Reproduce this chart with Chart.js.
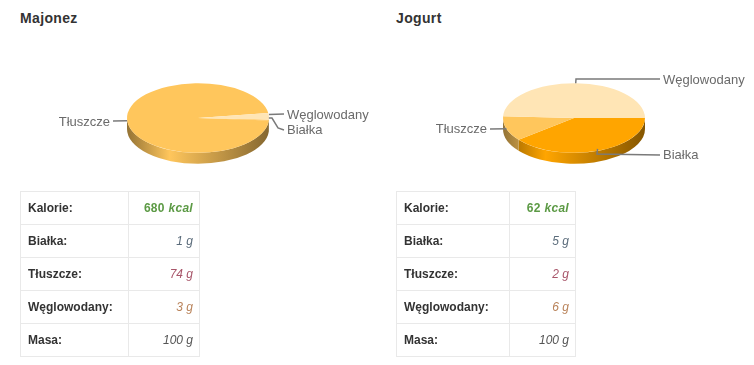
<!doctype html>
<html lang="pl">
  <head>
    <meta charset="utf-8">
    <title>Majonez i Jogurt</title>
    <script src="https://cdn.jsdelivr.net/npm/chart.js@4/dist/chart.umd.min.js"></script>
    <style>
      html, body { margin: 0; padding: 0; background: #fff; overflow: hidden; }
      body { width: 754px; height: 365px; position: relative; font-family: 'Liberation Sans', Arial, sans-serif; color: #333; }
      h3 { position: absolute; top: 10px; margin: 0; font-size: 14px; line-height: 16px; font-weight: bold; color: #333; letter-spacing: 0.35px; }
      canvas { position: absolute; top: 46px; filter: blur(0.4px); }
      table { position: absolute; top: 191px; width: 180px; border-collapse: collapse; font-size: 12px; table-layout: fixed; }
      td { border: 1px solid #e9e9e9; height: 33px; padding: 0 6px 0 7px; box-sizing: border-box; }
      td:first-child { font-weight: bold; color: #333; }
      td:last-child { text-align: right; font-style: italic; }
      .kal { color: #5c9a45; font-weight: bold; letter-spacing: 0.3px; }
      td.kal b { font-style: normal; }
      .bia { color: #5a6b7a; }
      .tlu { color: #a8566a; }
      .weg { color: #b9835a; }
      .mas { color: #555; }
    </style>
  </head>
  <body>
    <h3 style="left:20px">Majonez</h3>
    <h3 style="left:396px">Jogurt</h3>
    <canvas id="pie1" width="360" height="144" style="left:18px"></canvas>
    <canvas id="pie2" width="360" height="144" style="left:394px"></canvas>
    <table id="tab1" style="left:20px"></table>
    <table id="tab2" style="left:396px"></table>
    <script>
      const categories = ['Białka', 'Tłuszcze', 'Węglowodany'];
      // slice sizes, the tables show them rounded
      const majonezValues = [0.2, 74, 2.4];
      const jogurtValues = [5.1, 1.5, 6.4];
      const sliceColors = ['#ffa500', '#ffc65c', '#ffe5b5'];

      const rowLabels = ['Kalorie:', 'Białka:', 'Tłuszcze:', 'Węglowodany:', 'Masa:'];
      const rowClasses = ['kal', 'bia', 'tlu', 'weg', 'mas'];
      const majonezRows = ['<b>680</b> kcal', '1 g', '74 g', '3 g', '100 g'];
      const jogurtRows = ['<b>62</b> kcal', '5 g', '2 g', '6 g', '100 g'];

      function fillTable(id, rows, firstCol) {
        document.getElementById(id).innerHTML = rowLabels.map(function(label, i) {
          return '<tr><td style="width:' + firstCol + 'px">' + label + '</td><td class="' + rowClasses[i] + '">' + rows[i] + '</td></tr>';
        }).join('');
      }
      fillTable('tab1', majonezRows, 108);
      fillTable('tab2', jogurtRows, 113);

      const squash = 0.49;
      const depth = 11;

      function shade(hex, f) {
        const n = parseInt(hex.slice(1), 16);
        const r = Math.round((n >> 16) * f), g = Math.round(((n >> 8) & 255) * f), b = Math.round((n & 255) * f);
        return 'rgb(' + r + ',' + g + ',' + b + ')';
      }

      // squashes the library's own arcs into an ellipse and adds rim + leader lines
      const pie3d = {
        id: 'pie3d',
        beforeDatasetsDraw(chart) {
          const ctx = chart.ctx;
          const arcs = chart.getDatasetMeta(0).data;
          const cx = arcs[0].x, cy = arcs[0].y, r = arcs[0].outerRadius;
          arcs.forEach(function(arc, i) {
            [0, -2 * Math.PI].forEach(function(turn) {
              const a0 = Math.max(arc.startAngle + turn, 0);
              const a1 = Math.min(arc.endAngle + turn, Math.PI);
              if (a1 <= a0) return;
              const g = ctx.createLinearGradient(cx - r, 0, cx + r, 0);
              g.addColorStop(0, shade(sliceColors[i], 0.58));
              g.addColorStop(0.3, sliceColors[i]);
              g.addColorStop(1, shade(sliceColors[i], 0.52));
              ctx.beginPath();
              ctx.ellipse(cx, cy, r, r * squash, 0, a0, a1);
              ctx.ellipse(cx, cy + depth, r, r * squash, 0, a1, a0, true);
              ctx.closePath();
              ctx.fillStyle = g;
              ctx.fill();
            });
          });
          ctx.save();
          ctx.translate(0, cy);
          ctx.scale(1, squash);
          ctx.translate(0, -cy);
        },
        afterDatasetsDraw(chart, args, opts) {
          const ctx = chart.ctx;
          ctx.restore();
          const arcs = chart.getDatasetMeta(0).data;
          ctx.font = '13px "Liberation Sans", Arial, sans-serif';
          ctx.textBaseline = 'middle';
          opts.labels.forEach(function(l, i) {
            const arc = arcs[i];
            const mid = (arc.startAngle + arc.endAngle) / 2;
            const ax = arc.x + Math.cos(mid) * arc.outerRadius;
            const ay = arc.y + Math.sin(mid) * arc.outerRadius * squash + (l.dy || 0);
            ctx.beginPath();
            ctx.moveTo(ax, ay);
            (l.bend || []).forEach(function(p) { ctx.lineTo(p[0], p[1]); });
            ctx.lineTo(l.x + (l.align === 'right' ? 3 : -3), l.ly === undefined ? l.y : l.ly);
            ctx.strokeStyle = '#7a7a7a';
            ctx.lineWidth = 1.5;
            ctx.stroke();
            ctx.fillStyle = '#6a6a6a';
            ctx.textAlign = l.align;
            ctx.fillText(categories[i], l.x, l.y);
          });
        }
      };

      function makePie(id, values, rotation, labels) {
        return new Chart(document.getElementById(id), {
          type: 'pie',
          data: {
            labels: categories,
            datasets: [{ data: values, backgroundColor: sliceColors, borderWidth: 0, radius: 71, hoverOffset: 0 }]
          },
          options: {
            responsive: false,
            animation: false,
            rotation: rotation,
            layout: { padding: 0 },
            plugins: {
              legend: { display: false },
              tooltip: { enabled: false },
              pie3d: { labels: labels }
            }
          },
          plugins: [pie3d]
        });
      }

      // label spots are canvas coordinates (canvas top is 46)
      makePie('pie1', majonezValues, 93, [
        { x: 269, y: 84, dy: -2, align: 'left', bend: [[254, 72], [260, 82]] },
        { x: 92, y: 76, ly: 75, dy: 1.5, align: 'right' },
        { x: 269, y: 69, ly: 68, dy: -2, align: 'left' }
      ]);
      makePie('pie2', jogurtValues, 90, [
        { x: 269, y: 109, dy: -2, align: 'left', bend: [[203, 108]] },
        { x: 93, y: 83, align: 'right' },
        { x: 269, y: 34, ly: 33, align: 'left', bend: [[182, 33]] }
      ]);
    </script>
  </body>
</html>
